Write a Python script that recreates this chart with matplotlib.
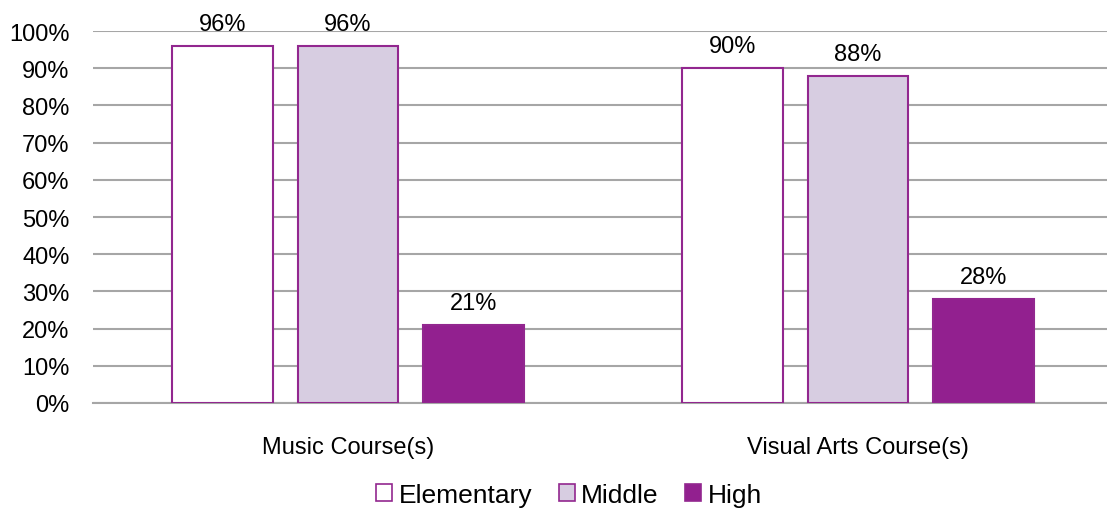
import matplotlib
matplotlib.use("Agg")
import matplotlib.pyplot as plt
import numpy as np
from matplotlib.patches import Patch

categories = ["Music Course(s)", "Visual Arts Course(s)"]
series_names = ["Elementary", "Middle", "High"]
elementary = [96, 90]
middle = [96, 88]
high = [21, 28]
yticks = [0, 10, 20, 30, 40, 50, 60, 70, 80, 90, 100]

edge = "#92278F"
fills = ["#FFFFFF", "#D7CDE1", "#92208F"]
values = [elementary, middle, high]

plt.rcParams['font.family'] = ['Liberation Sans', 'DejaVu Sans']

fig = plt.figure(figsize=(11.07, 5.10), dpi=100)
ax = fig.add_axes([0.084, 0.208, 0.9214, 0.729])

x = np.arange(len(categories))
width = 0.197
step = 0.246
for i, (vals, fc) in enumerate(zip(values, fills)):
    pos = x + (i - 1) * step
    ax.bar(pos, vals, width=width, facecolor=fc, edgecolor=edge, linewidth=1.5, zorder=3)
    for p, v in zip(pos, vals):
        ax.text(p, v + 4.3, f"{v}%", ha="center", va="baseline", fontsize=17, zorder=4)

ax.set_xlim(-0.5, 1.5)
ax.set_ylim(0, 100)
ax.set_yticks(yticks)
ax.set_yticklabels([f"{t}%" for t in yticks], fontsize=17)
ax.yaxis.grid(True, color="#A6A6A6", linewidth=1.5, zorder=0)
ax.set_axisbelow(True)
ax.set_xticks(x)
ax.set_xticklabels(categories, fontsize=17)
ax.tick_params(axis="both", length=0)
ax.tick_params(axis="x", pad=24)
ax.tick_params(axis="y", pad=17)
for s in ["left", "right", "top"]:
    ax.spines[s].set_visible(False)
ax.spines["bottom"].set_color("#A6A6A6")
ax.spines["bottom"].set_linewidth(1.5)

handles = [Patch(facecolor=fc, edgecolor=edge, linewidth=1.2) for fc in fills]
fig.legend(handles, series_names, loc="center", bbox_to_anchor=(0.514, 0.028), ncol=3,
           frameon=False, fontsize=19, handlelength=0.6, handleheight=0.6,
           handletextpad=0.25, columnspacing=1.0, borderpad=0)

fig.savefig("out.png", dpi=100)
